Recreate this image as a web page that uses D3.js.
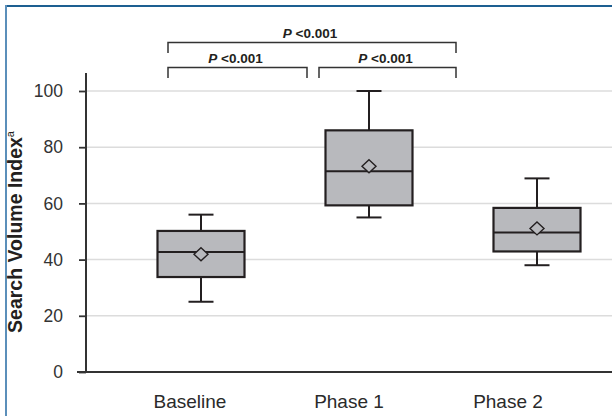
<!DOCTYPE html>
<html>
<head>
<meta charset="utf-8">
<script src="https://cdn.jsdelivr.net/npm/d3@7"></script>
<style>
  html, body { margin: 0; padding: 0; background: #fff; }
  svg { display: block; font-family: "Liberation Sans", Arial, sans-serif; }
</style>
</head>
<body>
<div id="chart"></div>
<script>
const categories = ["Baseline", "Phase 1", "Phase 2"];
const whiskerLow = [25, 55, 38];
const q1 = [33.8, 59.3, 42.9];
const median = [42.7, 71.4, 49.6];
const q3 = [50.2, 86, 58.4];
const whiskerHigh = [56, 100, 68.9];
const mean = [41.9, 73.2, 51.1];
const yTicks = [0, 20, 40, 60, 80, 100];

// pairwise comparisons: [from index, to index, label, level]
const comparisons = [
  [0, 1, "<0.001", 0],
  [1, 2, "<0.001", 0],
  [0, 2, "<0.001", 1]
];

const width = 612, height = 416;

const svg = d3.select("#chart").append("svg")
    .attr("width", width)
    .attr("height", height);

// frame
svg.append("line").attr("x1", 5).attr("x2", width).attr("y1", 6).attr("y2", 6)
    .attr("stroke", "#1d5f91").attr("stroke-width", 2);
svg.append("line").attr("x1", 6).attr("x2", 6).attr("y1", 5).attr("y2", height)
    .attr("stroke", "#5b8fba").attr("stroke-width", 2);

const y = d3.scaleLinear()
    .domain([0, 100])
    .range([372, 91]);

const x = d3.scalePoint()
    .domain(categories)
    .range([201, 537]);

const xLabel = d3.scalePoint()
    .domain(categories)
    .range([190, 508]);

const axisX = 86;

// gridlines
svg.append("g")
    .selectAll("line")
    .data(yTicks.filter(d => d > 0))
    .join("line")
    .attr("x1", axisX).attr("x2", width)
    .attr("y1", d => y(d)).attr("y2", d => y(d))
    .attr("stroke", "#dcdcdc")
    .attr("stroke-width", 1.5);

// y axis
const yAxis = svg.append("g")
    .attr("transform", `translate(${axisX},0)`)
    .call(d3.axisLeft(y).tickValues(yTicks).tickSize(7).tickPadding(16));
yAxis.select(".domain").remove();
yAxis.selectAll(".tick line").attr("stroke", "#333").attr("stroke-width", 1.8);
yAxis.selectAll(".tick text")
    .attr("font-size", 17.5)
    .attr("fill", "#333")
    .attr("font-family", "Liberation Sans, Arial, sans-serif");

svg.append("line")
    .attr("x1", axisX).attr("x2", axisX)
    .attr("y1", 73).attr("y2", y(0))
    .attr("stroke", "#333").attr("stroke-width", 2);

// x axis
svg.append("line")
    .attr("x1", 77).attr("x2", width)
    .attr("y1", y(0)).attr("y2", y(0))
    .attr("stroke", "#333").attr("stroke-width", 2);

svg.append("g")
    .selectAll("text")
    .data(categories)
    .join("text")
    .attr("x", d => xLabel(d))
    .attr("y", 408)
    .attr("text-anchor", "middle")
    .attr("font-size", 19)
    .attr("fill", "#2a2a2a")
    .text(d => d);

// y title
const yt = svg.append("text")
    .attr("transform", "translate(22,232) rotate(-90)")
    .attr("text-anchor", "middle")
    .attr("font-size", 19.5)
    .attr("font-weight", "bold")
    .attr("fill", "#231f20");
yt.append("tspan").text("Search Volume Index");
yt.append("tspan").attr("font-size", 11).attr("font-weight", "normal").attr("dy", -8).text("a");

// boxes
const boxW = 87, capW = 25;
const stroke = "#231f20";
const boxes = svg.append("g")
    .selectAll("g")
    .data(categories.map((c, i) => ({c, i})))
    .join("g");

boxes.append("line")
    .attr("x1", d => x(d.c)).attr("x2", d => x(d.c))
    .attr("y1", d => y(whiskerLow[d.i])).attr("y2", d => y(whiskerHigh[d.i]))
    .attr("stroke", stroke).attr("stroke-width", 2);

boxes.selectAll(".cap")
    .data(d => [whiskerLow[d.i], whiskerHigh[d.i]].map(v => ({c: d.c, v})))
    .join("line")
    .attr("class", "cap")
    .attr("x1", d => x(d.c) - capW / 2).attr("x2", d => x(d.c) + capW / 2)
    .attr("y1", d => y(d.v)).attr("y2", d => y(d.v))
    .attr("stroke", stroke).attr("stroke-width", 2);

boxes.append("rect")
    .attr("x", d => x(d.c) - boxW / 2)
    .attr("width", boxW)
    .attr("y", d => y(q3[d.i]))
    .attr("height", d => y(q1[d.i]) - y(q3[d.i]))
    .attr("fill", "#b8b9bd")
    .attr("stroke", stroke)
    .attr("stroke-width", 2.2);

boxes.append("line")
    .attr("x1", d => x(d.c) - boxW / 2).attr("x2", d => x(d.c) + boxW / 2)
    .attr("y1", d => y(median[d.i])).attr("y2", d => y(median[d.i]))
    .attr("stroke", stroke).attr("stroke-width", 2);

boxes.append("path")
    .attr("transform", d => `translate(${x(d.c)},${y(mean[d.i])})`)
    .attr("d", "M0,-6.5L7,0L0,6.5L-7,0Z")
    .attr("fill", "#b8b9bd")
    .attr("stroke", stroke)
    .attr("stroke-width", 1.4);

// significance brackets
const bx = d3.scaleLinear().domain([0, 2]).range([168, 456]);
const levelY = [67.5, 42.5];
const ends = d => [bx(d[0]) + (d[0] === 1 ? 7 : 0), bx(d[1]) - (d[1] === 1 ? 5 : 0)];
const brk = svg.append("g")
    .selectAll("g")
    .data(comparisons)
    .join("g");

brk.append("path")
    .attr("d", d => {
      const [x1, x2] = ends(d);
      const yy = levelY[d[3]];
      return `M${x1},${yy + 10.5}V${yy}H${x2}V${yy + 10.5}`;
    })
    .attr("fill", "none")
    .attr("stroke", "#333")
    .attr("stroke-width", 1.5);

brk.append("text")
    .attr("x", d => d3.mean(ends(d)) - 2)
    .attr("y", d => levelY[d[3]] - 5)
    .attr("text-anchor", "middle")
    .attr("font-size", 13.5)
    .attr("font-weight", "bold")
    .attr("fill", "#231f20")
    .html(d => `<tspan font-style="italic">P</tspan> ${d[2].replace("<", "&lt;")}`);
</script>
</body>
</html>
